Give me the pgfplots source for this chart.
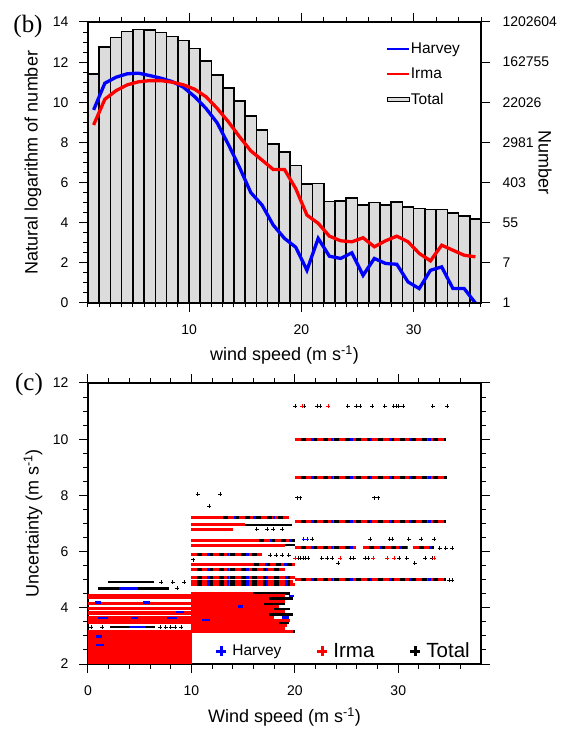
\documentclass[border=0pt]{standalone}
\usepackage{pgfplots}
\usepackage{pgfplotstable}
\pgfplotsset{compat=1.18}
\usepackage{fontspec}
\setmainfont{Liberation Sans}
\newfontfamily\seriffont{Liberation Serif}
\definecolor{bargray}{RGB}{220,220,220}

\pgfplotsset{
  common/.style={
    scale only axis, width=393pt, height=281pt,
    tick align=outside,
    major tick length=9pt, minor tick length=4.5pt,
    tick style={black, line width=1pt},
    axis line style={line width=1.2pt},
    tick label style={font=\fontsize{14}{16}\selectfont},
    label style={font=\fontsize{18}{21}\selectfont},
    /pgf/number format/assume math mode=true,
  },
  shortline legend/.style={legend image code/.code={\draw[##1] (0pt,0pt) -- (22pt,0pt);}},
  totalbar legend/.style={legend image code/.code={\draw[fill=bargray, draw=black, line width=0.8pt] (0pt,-2pt) rectangle (22pt,2pt);}},
}

% ---------- panel (b) data ----------
\pgfplotstableread[row sep=\\]{
x y\\
1 11.42\\ 2 12.75\\ 3 13.23\\ 4 13.53\\ 5 13.63\\ 6 13.60\\ 7 13.48\\ 8 13.28\\ 9 13.07\\ 10 12.67\\
11 12.05\\ 12 11.37\\ 13 10.72\\ 14 10.05\\ 15 9.32\\ 16 8.62\\ 17 7.93\\ 18 7.52\\ 19 6.85\\ 20 5.92\\
21 5.95\\ 22 5.05\\ 23 5.07\\ 24 5.22\\ 25 4.88\\ 26 5.00\\ 27 4.87\\ 28 5.02\\ 29 4.77\\ 30 4.70\\
31 4.65\\ 32 4.65\\ 33 4.47\\ 34 4.33\\ 35 4.18\\ 36 4.18\\
}\totaltab
\pgfplotstableread[row sep=\\]{
x y\\
1.5 9.62\\ 2.5 10.95\\ 3.5 11.25\\ 4.5 11.42\\ 5.5 11.45\\ 6.5 11.33\\ 7.5 11.20\\ 8.5 11.03\\ 9.5 10.75\\ 10.5 10.28\\
11.5 9.70\\ 12.5 8.98\\ 13.5 7.90\\ 14.5 6.75\\ 15.5 5.50\\ 16.5 4.88\\ 17.5 3.88\\ 18.5 3.22\\ 19.5 2.78\\ 20.5 1.63\\
21.5 3.22\\ 22.5 2.33\\ 23.5 2.22\\ 24.5 2.50\\ 25.5 1.38\\ 26.5 2.22\\ 27.5 1.97\\ 28.5 1.93\\ 29.5 1.05\\ 30.5 0.72\\
31.5 1.63\\ 32.5 1.80\\ 33.5 0.72\\ 34.5 0.72\\ 35.5 0.00\\
}\harveytab
\pgfplotstableread[row sep=\\]{
x y\\
1.5 8.87\\ 2.5 10.15\\ 3.5 10.58\\ 4.5 10.87\\ 5.5 11.02\\ 6.5 11.08\\ 7.5 11.08\\ 8.5 11.00\\ 9.5 10.87\\ 10.5 10.65\\
11.5 10.28\\ 12.5 9.70\\ 13.5 9.03\\ 14.5 8.28\\ 15.5 7.58\\ 16.5 7.12\\ 17.5 6.65\\ 18.5 6.65\\ 19.5 5.70\\ 20.5 4.38\\
21.5 3.97\\ 22.5 3.33\\ 23.5 3.10\\ 24.5 3.05\\ 25.5 3.25\\ 26.5 2.80\\ 27.5 3.10\\ 28.5 3.33\\ 29.5 3.05\\ 30.5 2.47\\
31.5 2.10\\ 32.5 2.88\\ 33.5 2.63\\ 34.5 2.38\\ 35.5 2.30\\
}\irmatab

% ---------- panel (c) data: bands of dense points (segments) and sparse points ----------
\pgfplotstableread[row sep=\\]{
x y\\
0 2.05\\ 10.1 2.05\\ nan nan\\ 0 2.15\\ 10.1 2.15\\ nan nan\\ 0 2.25\\ 10.1 2.25\\ nan nan\\
0 2.35\\ 10.1 2.35\\ nan nan\\ 0 2.45\\ 10.1 2.45\\ nan nan\\ 0 2.55\\ 10.1 2.55\\ nan nan\\
0 2.65\\ 10.1 2.65\\ nan nan\\ 0 2.75\\ 10.1 2.75\\ nan nan\\ 0 2.85\\ 10.1 2.85\\ nan nan\\
0 2.95\\ 10.1 2.95\\ nan nan\\ 0 3.05\\ 10.1 3.05\\ nan nan\\ 0 3.15\\ 10.1 3.15\\ nan nan\\
0 3.46\\ 10.1 3.46\\ nan nan\\ 0 3.60\\ 10.1 3.60\\ nan nan\\ 0 3.67\\ 10.1 3.67\\ nan nan\\
0 3.78\\ 10.1 3.78\\ nan nan\\ 0 3.85\\ 10.1 3.85\\ nan nan\\ 0 3.99\\ 10.1 3.99\\ nan nan\\
0 4.15\\ 10.1 4.15\\ nan nan\\ 0 4.35\\ 10.1 4.35\\ nan nan\\ 0 4.45\\ 10.1 4.45\\ nan nan\\
9.95 3.16\\ 19.8 3.16\\ nan nan\\ 9.95 3.26\\ 19.0 3.26\\ nan nan\\ 9.95 3.36\\ 19.2 3.36\\ nan nan\\
9.95 3.46\\ 18.5 3.46\\ nan nan\\ 9.95 3.56\\ 19.5 3.56\\ nan nan\\ 9.95 3.66\\ 18.0 3.66\\ nan nan\\
9.95 3.76\\ 17.5 3.76\\ nan nan\\ 9.95 3.86\\ 19.0 3.86\\ nan nan\\ 9.95 3.95\\ 18.0 3.95\\ nan nan\\
9.95 4.05\\ 18.5 4.05\\ nan nan\\ 9.95 4.14\\ 17.0 4.14\\ nan nan\\ 9.95 4.23\\ 19.0 4.23\\ nan nan\\
9.95 4.33\\ 17.5 4.33\\ nan nan\\ 9.95 4.42\\ 19.0 4.42\\ nan nan\\ 9.95 4.51\\ 16.0 4.51\\ nan nan\\
9.95 5.55\\ 15.5 5.55\\ nan nan\\ 9.95 6.23\\ 19.0 6.23\\ nan nan\\ 9.95 6.41\\ 16.0 6.41\\ nan nan\\
9.95 6.80\\ 14.0 6.80\\ nan nan\\ 9.95 6.95\\ 15.2 6.95\\ nan nan\\ 9.95 7.21\\ 12.5 7.21\\
}\redbands
\pgfplotstableread[row sep=\\]{
x y\\
2.1 3.31\\ 6.5 3.31\\ nan nan\\ 1.0 4.69\\ 7.8 4.69\\ nan nan\\ 1.9 4.91\\ 6.4 4.91\\ nan nan\\
19.0 3.16\\ 20.0 3.16\\ nan nan\\ 18.0 3.46\\ 19.4 3.46\\ nan nan\\ 17.0 3.76\\ 19.8 3.76\\ nan nan\\
17.5 3.95\\ 19.5 3.95\\ nan nan\\ 16.5 4.14\\ 19.0 4.14\\ nan nan\\ 17.0 4.33\\ 19.8 4.33\\ nan nan\\
15.5 4.51\\ 19.5 4.51\\ nan nan\\ 15.0 6.95\\ 19.7 6.95\\ nan nan\\ 18.5 6.23\\ 20.0 6.23\\
}\blackbands
\pgfplotstableread[row sep=\\]{
x y\\
9.95 4.83\\ 20.0 4.83\\ nan nan\\ 9.95 4.93\\ 19.8 4.93\\ nan nan\\ 9.95 5.09\\ 20.0 5.09\\ nan nan\\
9.95 5.38\\ 19.0 5.38\\ nan nan\\ 15.5 5.55\\ 20.0 5.55\\ nan nan\\ 9.95 5.88\\ 16.8 5.88\\ nan nan\\
16.0 6.41\\ 20.0 6.41\\ nan nan\\ 12.5 7.21\\ 19.4 7.21\\ nan nan\\
20.0 4.99\\ 34.6 4.99\\ nan nan\\ 20.0 6.13\\ 25.9 6.13\\ nan nan\\ 26.6 6.13\\ 30.9 6.13\\ nan nan\\
31.4 6.13\\ 33.5 6.13\\ nan nan\\ 20.0 7.06\\ 34.6 7.06\\ nan nan\\ 20.0 8.65\\ 34.7 8.65\\ nan nan\\
20.0 10.0\\ 34.6 10.0\\
}\mixbands
\pgfplotstableread[row sep=\\]{
x y\\
0.8 2.97\\ 1.4 2.97\\ nan nan\\ 0.8 2.67\\ 1.5 2.67\\ nan nan\\ 0.7 4.19\\ 1.3 4.19\\ nan nan\\
5.3 4.19\\ 6.0 4.19\\ nan nan\\ 1.0 3.63\\ 1.9 3.63\\ nan nan\\ 4.2 3.63\\ 4.8 3.63\\ nan nan\\
7.6 3.63\\ 8.6 3.63\\ nan nan\\ 3.0 4.69\\ 4.8 4.69\\ nan nan\\
4.0 3.31\\ 5.5 3.31\\ nan nan\\ 8.5 3.85\\ 9.3 3.85\\ nan nan\\ 11.0 3.56\\ 11.8 3.56\\ nan nan\\
14.5 4.05\\ 15.0 4.05\\ nan nan\\ 18.8 3.66\\ 19.4 3.66\\ nan nan\\ 19.4 4.42\\ 19.9 4.42\\
}\bluebands
\pgfplotstableread[row sep=\\]{
x y\\
7.1 4.91\\ 8.2 4.91\\ 9.3 4.91\\ 8.6 4.69\\
0.3 3.31\\ 1.4 3.31\\ 7.0 3.31\\ 7.5 3.31\\ 8.0 3.31\\ 8.4 3.31\\ 9.0 3.31\\
10.6 8.05\\ 12.8 8.05\\ 11.7 7.62\\ 10.2 5.71\\
16.3 6.80\\ 17.3 6.80\\ 17.9 6.80\\ 18.8 6.80\\
17.6 5.88\\ 18.2 5.88\\ 18.8 5.88\\ 19.4 5.88\\
20.04 11.18\\ 20.91 11.18\\ 22.14 11.18\\ 22.46 11.18\\ 25.10 11.18\\ 25.94 11.18\\ 26.33 11.18\\ 27.46 11.18\\
28.69 11.18\\ 29.56 11.18\\ 29.82 11.18\\ 30.04 11.18\\ 30.46 11.18\\ 33.33 11.18\\ 34.72 11.18\\
20.2 7.92\\ 20.5 7.92\\ 27.7 7.92\\ 28.04 7.92\\
21.65 6.45\\ 27.3 6.45\\ 29.17 6.45\\ 29.43 6.45\\ 31.0 6.45\\ 32.24 6.45\\ 33.5 6.45\\
20.3 5.76\\ 20.5 5.76\\ 20.8 5.76\\ 21.0 5.76\\ 21.3 5.76\\ 22.6 5.76\\ 23.1 5.76\\ 23.6 5.76\\
25.4 5.76\\ 25.7 5.76\\ 26.8 5.76\\ 27.1 5.76\\ 30.1 5.76\\ 30.8 5.76\\ 32.6 5.76\\ 33.3 5.76\\
24.2 5.58\\ 31.6 5.58\\ 34.0 6.13\\ 34.6 6.13\\ 35.2 6.13\\ 34.9 4.99\\ 35.2 4.99\\
}\blackpts
\pgfplotstableread[row sep=\\]{
x y\\
20.68 11.18\\ 23.2 11.18\\ 20.04 5.76\\ 24.4 5.76\\ 27.6 5.76\\ 28.9 5.76\\ 29.6 5.76\\ 33.5 5.76\\
}\redpts
\pgfplotstableread[row sep=\\]{
x y\\
20.85 6.45\\ 21.17 6.45\\
}\bluepts

\begin{document}
\begin{tikzpicture}
\path[use as bounding box] (0,0) rectangle (563pt,729pt);

% ================= panel (b) =================
\begin{axis}[common, at={(88pt,426pt)}, anchor=south west,
  xmin=1, xmax=36, ymin=0, ymax=14,
  xtick={10,20,30}, minor xtick={1,2,...,36},
  ytick={0,2,...,14}, minor ytick={0.5,1,...,14},
  xtick pos=left, ytick pos=left,
  xticklabel style={yshift=-9pt},
  yticklabel style={xshift=-7pt},
  xlabel={wind speed (m s\textsuperscript{-1})},
  ylabel={Natural logarithm of number},
  xlabel style={at={(axis description cs:0.5,-0.185)}, anchor=center},
  ylabel style={at={(axis description cs:-0.14,0.5)}, anchor=center},
  legend style={at={(0.758,0.937)}, anchor=north west, draw=none, fill=none,
    font=\fontsize{15.5}{18}\selectfont, inner sep=0pt, row sep=7pt,
    nodes={inner xsep=1pt, inner ysep=3pt}},
  legend cell align=left,
]
\addplot[ybar interval, fill=bargray, draw=black, line width=1.6pt, forget plot] table {\totaltab};
\addplot[blue, line width=3.3pt, forget plot] table {\harveytab};
\addplot[red, line width=3.3pt, forget plot] table {\irmatab};
\addlegendimage{blue, line width=1.8pt, shortline legend}
\addlegendentry{Harvey}
\addlegendimage{red, line width=1.8pt, shortline legend}
\addlegendentry{Irma}
\addlegendimage{totalbar legend}
\addlegendentry{Total}
\end{axis}

\begin{axis}[common, at={(88pt,426pt)}, anchor=south west,
  xmin=1, xmax=36, ymin=0, ymax=14,
  xtick={10,20,30}, minor xtick={2,4,...,36}, xticklabels={},
  ytick={0,2,...,14},
  yticklabels={1,7,55,403,2981,22026,162755,1202604},
  xtick pos=right, ytick pos=right, yticklabel pos=right,
  yticklabel style={anchor=west, xshift=9pt},
  ylabel={Number},
  ylabel style={at={(axis description cs:1.163,0.5)}, anchor=center, rotate=180},
]
\addplot[draw=none, forget plot] coordinates {(1,0)};
\end{axis}

% ================= panel (c) =================
\begin{axis}[common, at={(88pt,65pt)}, anchor=south west,
  xmin=0, xmax=38, ymin=2, ymax=12,
  xtick={0,10,20,30}, minor xtick={2,4,...,36},
  ytick={2,4,...,12}, minor ytick={2.5,3,...,11.5},
  xticklabel style={yshift=-9pt},
  yticklabel style={xshift=-7pt},
  unbounded coords=jump,
  xlabel={Wind speed (m s\textsuperscript{-1})},
  ylabel={Uncertainty (m s\textsuperscript{-1})},
  xlabel style={at={(axis description cs:0.5,-0.189)}, anchor=center},
  ylabel style={at={(axis description cs:-0.14,0.5)}, anchor=center},
  legend columns=3,
  legend style={at={(0.326,0.046)}, anchor=west, draw=none, fill=none, inner sep=0pt,
    /tikz/every odd column/.append style={column sep=4pt},
    /tikz/every even column/.append style={column sep=34pt}},
]
\addplot[black, line width=3pt, forget plot] table {\mixbands};
\addplot[red, line width=3pt, dash pattern=on 6pt off 5pt, forget plot] table {\mixbands};
\addplot[blue, line width=3pt, dash pattern=on 2.5pt off 17pt, dash phase=3pt, forget plot] table {\mixbands};
\addplot[black, line width=2.2pt, forget plot] table {\blackbands};
\addplot[red, line width=3pt, forget plot] table {\redbands};
\addplot[blue, line width=2.6pt, forget plot] table {\bluebands};
\addplot[only marks, mark=+, mark size=2pt, black, line width=0.7pt, forget plot] table {\blackpts};
\addplot[only marks, mark=+, mark size=2pt, red, line width=0.7pt, forget plot] table {\redpts};
\addplot[only marks, mark=+, mark size=2pt, blue, line width=0.7pt, forget plot] table {\bluepts};
\addlegendimage{only marks, mark=+, mark size=5pt, mark options={line width=3pt}, blue}
\addlegendentry{\fontsize{15.5}{18}\selectfont Harvey}
\addlegendimage{only marks, mark=+, mark size=5pt, mark options={line width=3pt}, red}
\addlegendentry{\fontsize{20.5}{23}\selectfont Irma}
\addlegendimage{only marks, mark=+, mark size=5pt, mark options={line width=3pt}, black}
\addlegendentry{\fontsize{20.5}{23}\selectfont Total}
\end{axis}

\node[font=\seriffont\fontsize{25}{28}\selectfont] at (28pt,703pt) {(b)};
\node[font=\seriffont\fontsize{25}{28}\selectfont] at (29pt,345pt) {(c)};
\end{tikzpicture}
\end{document}
